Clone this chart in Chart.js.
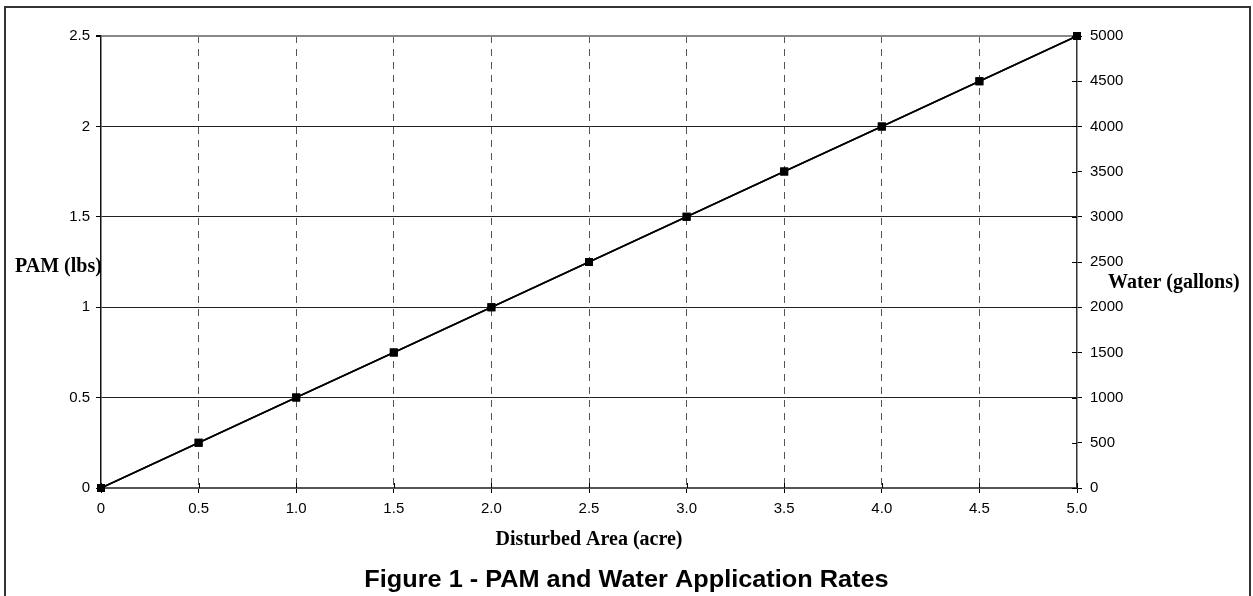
<!DOCTYPE html>
<html>
<head>
<meta charset="utf-8">
<script src="https://cdn.jsdelivr.net/npm/chart.js@4.4.1/dist/chart.umd.min.js"></script>
<style>
  html, body { margin: 0; padding: 0; background: #fff; }
  #wrap { width: 1253px; height: 596px; }
</style>
</head>
<body>
<div id="wrap"><canvas id="pamChart" width="1253" height="596"></canvas></div>
<script>
// data
const areaAcres = [0, 0.5, 1.0, 1.5, 2.0, 2.5, 3.0, 3.5, 4.0, 4.5, 5.0];
const pamLbs = [0, 0.25, 0.5, 0.75, 1.0, 1.25, 1.5, 1.75, 2.0, 2.25, 2.5];
const waterGallons = [0, 500, 1000, 1500, 2000, 2500, 3000, 3500, 4000, 4500, 5000];
const xTickLabels = ['0', '0.5', '1.0', '1.5', '2.0', '2.5', '3.0', '3.5', '4.0', '4.5', '5.0'];
const pamTickLabels = ['0', '0.5', '1', '1.5', '2', '2.5'];
const waterTickLabels = ['0', '500', '1000', '1500', '2000', '2500', '3000', '3500', '4000', '4500', '5000'];

const tickFont = { family: 'Arial, "Liberation Sans", sans-serif', size: 15 };
const serifBold = 'bold 20px "Times New Roman", "Liberation Serif", serif';

// frame, titles and the inner half of the crossing ticks
const extras = {
  id: 'extras',
  afterDraw(chart) {
    const c = chart.ctx, a = chart.chartArea;
    c.save();
    c.strokeStyle = '#333';
    c.lineWidth = 2;
    c.strokeRect(5, 7, chart.width - 8, chart.height + 10);

    c.lineWidth = 1;
    c.strokeStyle = '#000';
    const y1 = chart.scales.y1;
    y1.ticks.forEach(t => {
      const py = Math.round(y1.getPixelForValue(t.value)) + 0.5;
      c.beginPath(); c.moveTo(a.right - 5, py); c.lineTo(a.right, py); c.stroke();
    });
    const x = chart.scales.x;
    x.ticks.forEach(t => {
      const px = Math.round(x.getPixelForValue(t.value)) + 0.5;
      c.beginPath(); c.moveTo(px, a.bottom - 5); c.lineTo(px, a.bottom); c.stroke();
    });

    c.fillStyle = '#000';
    c.font = serifBold;
    c.textBaseline = 'middle';
    c.textAlign = 'left';
    c.fillText('PAM (lbs)', 15, a.top + (a.bottom - a.top) * 0.51);
    c.fillText('Water (gallons)', a.right + 31, a.top + (a.bottom - a.top) * 0.545);
    c.textAlign = 'center';
    c.fillText('Disturbed Area (acre)', (a.left + a.right) / 2, a.bottom + 52);
    // the original figure title is a little stretched sideways
    c.font = 'bold 23px Arial, "Liberation Sans", sans-serif';
    c.translate(chart.width / 2, a.bottom + 93);
    c.scale(1.1, 1);
    c.fillText('Figure 1 - PAM and Water Application Rates', 0, 0);
    c.restore();
  }
};

const lineStyle = {
  borderColor: '#000',
  backgroundColor: '#000',
  borderWidth: 1.6,
  pointStyle: 'rect',
  pointRadius: 4.5,
  tension: 0,
  clip: false
};

new Chart(document.getElementById('pamChart'), {
  type: 'line',
  data: {
    datasets: [
      Object.assign({ label: 'PAM', yAxisID: 'y',
        data: areaAcres.map((a, i) => ({ x: a, y: pamLbs[i] })) }, lineStyle),
      Object.assign({ label: 'Water', yAxisID: 'y1',
        data: areaAcres.map((a, i) => ({ x: a, y: waterGallons[i] })) }, lineStyle)
    ]
  },
  options: {
    responsive: false,
    animation: false,
    devicePixelRatio: 1,
    layout: { padding: { top: 36, left: 0, right: 0, bottom: 0 } },
    plugins: {
      legend: { display: false },
      tooltip: { enabled: false }
    },
    scales: {
      x: {
        type: 'linear',
        min: 0,
        max: 5,
        ticks: {
          stepSize: 0.5,
          color: '#000',
          font: tickFont,
          padding: 7,
          callback: (v, i) => xTickLabels[i]
        },
        grid: {
          color: ctx => (ctx.tick && (ctx.tick.value === 0 || ctx.tick.value === 5)) ? 'rgba(0,0,0,0)' : '#555',
          lineWidth: 1,
          tickLength: 5,
          tickColor: '#000'
        },
        border: { color: '#555', width: 2, dash: [7, 6] },
        afterFit(scale) { scale.height = 108; }
      },
      y: {
        position: 'left',
        min: 0,
        max: 2.5,
        ticks: {
          stepSize: 0.5,
          color: '#000',
          font: tickFont,
          padding: 6,
          callback: (v, i) => pamTickLabels[i]
        },
        grid: {
          color: ctx => (ctx.tick && ctx.tick.value === 2.5) ? '#888' : '#222',
          lineWidth: ctx => (ctx.tick && ctx.tick.value === 2.5) ? 2 : 1,
          tickLength: 5,
          tickColor: '#000'
        },
        border: { color: '#111', width: 1.5 },
        afterFit(scale) { scale.width = 101; }
      },
      y1: {
        position: 'right',
        min: 0,
        max: 5000,
        ticks: {
          stepSize: 500,
          color: '#000',
          font: tickFont,
          padding: 8,
          callback: (v, i) => waterTickLabels[i]
        },
        grid: { drawOnChartArea: false, tickLength: 5, tickColor: '#000' },
        border: { color: '#333', width: 1.5 },
        afterFit(scale) { scale.width = 176; }
      }
    }
  },
  plugins: [extras]
});
</script>
</body>
</html>
